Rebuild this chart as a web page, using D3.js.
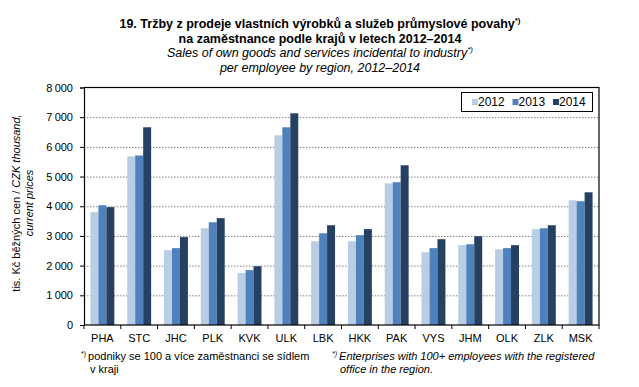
<!DOCTYPE html>
<html><head><meta charset="utf-8">
<script src="https://cdnjs.cloudflare.com/ajax/libs/d3/7.8.5/d3.min.js"></script>
<style>
body{margin:0;background:#fff;}
svg{display:block;font-family:"Liberation Sans",Arial,sans-serif;}
</style></head>
<body><svg id="c" width="639" height="387"></svg>
<script>
const regions = ["PHA","STC","JHC","PLK","KVK","ULK","LBK","HKK","PAK","VYS","JHM","OLK","ZLK","MSK"];
const years = ["2012","2013","2014"];
const v2012 = [3800,5680,2520,3260,1750,6390,2820,2820,4770,2450,2690,2550,3230,4200];
const v2013 = [4035,5710,2590,3460,1850,6660,3090,3025,4810,2590,2720,2590,3260,4170];
const v2014 = [3970,6660,2960,3600,1980,7130,3360,3230,5380,2890,2990,2690,3360,4470];
const yTicks = [0,1000,2000,3000,4000,5000,6000,7000,8000];
const colors = ["#b9cde5","#4f81bd","#254061"];

const svg = d3.select("#c");
const L=84, R=599, T=87.5, B=325;
const series=[v2012,v2013,v2014];

const x0 = d3.scaleBand().domain(regions).range([L,R]).paddingInner(0.35).paddingOuter(0.175);
const x1 = d3.scaleBand().domain(years).range([0,x0.bandwidth()]);
const y = d3.scaleLinear().domain([0,8000]).range([B,T]);

// gridlines
svg.append("g").selectAll("line").data(yTicks.filter(d=>d>0&&d<8000)).join("line")
  .attr("x1",L).attr("x2",R).attr("y1",d=>y(d)+0.5).attr("y2",d=>y(d)+0.5)
  .attr("stroke","#808080").attr("stroke-dasharray","1.5,1.5");

// bars
const g = svg.append("g");
regions.forEach((r,i)=>{
  years.forEach((yr,j)=>{
    g.append("rect").attr("x",x0(r)+x1(yr)).attr("width",x1.bandwidth())
      .attr("y",y(series[j][i])).attr("height",B-y(series[j][i])).attr("fill",colors[j]);
  });
});

// frame
svg.append("rect").attr("x",L+0.5).attr("y",T).attr("width",R-L-0.5).attr("height",B-T)
  .attr("fill","none").attr("stroke","#000").attr("stroke-width",1.2);

// y axis
const ya = d3.axisLeft(y).tickValues(yTicks).tickSize(4).tickPadding(7)
  .tickFormat(d=>d3.format(",")(d).replace(/,/g,"\u2009"));
svg.append("g").attr("transform",`translate(${L},0)`).call(ya)
  .call(a=>a.select(".domain").attr("stroke","#000"))
  .call(a=>a.selectAll("text").attr("font-size",11).attr("fill","#000").attr("font-family","Liberation Sans, Arial"));

// x axis ticks at band boundaries
const bounds = regions.map(r=>x0(r)-x0.step()*0.175).concat([R]);
svg.append("g").selectAll("line").data(bounds).join("line")
  .attr("x1",d=>d).attr("x2",d=>d).attr("y1",B).attr("y2",B+4).attr("stroke","#000");
svg.append("g").selectAll("text").data(regions).join("text")
  .attr("x",r=>x0(r)+x0.bandwidth()/2).attr("y",342).attr("text-anchor","middle")
  .attr("font-size",11).text(r=>r);

// titles
const cx=320;
const t1 = svg.append("text").attr("x",cx).attr("y",28).attr("text-anchor","middle").attr("font-size",12.5).attr("font-weight","bold");
t1.append("tspan").text("19. Tržby z prodeje vlastních výrobků a služeb průmyslové povahy");
t1.append("tspan").attr("dy",-5).attr("font-size",8).text("*)");
svg.append("text").attr("x",cx).attr("y",42.5).attr("text-anchor","middle").attr("font-size",12.5).attr("font-weight","bold")
  .text("na zaměstnance podle krajů v letech 2012–2014");
const t3 = svg.append("text").attr("x",cx).attr("y",57).attr("text-anchor","middle").attr("font-size",12.5).attr("font-style","italic");
t3.append("tspan").text("Sales of own goods and services incidental to industry");
t3.append("tspan").attr("dy",-5).attr("font-size",8).text("*)");
svg.append("text").attr("x",cx).attr("y",72).attr("text-anchor","middle").attr("font-size",12.5).attr("font-style","italic")
  .text("per employee by region, 2012–2014");

// y axis title
const yt = svg.append("text").attr("transform","translate(20,203) rotate(-90)").attr("text-anchor","middle").attr("font-size",11);
yt.append("tspan").text("tis. Kč běžných cen / ");
yt.append("tspan").attr("font-style","italic").text("CZK thousand,");
svg.append("text").attr("transform","translate(33,203) rotate(-90)").attr("text-anchor","middle").attr("font-size",11)
  .attr("font-style","italic").text("current prices");

// legend
svg.append("rect").attr("x",461.5).attr("y",92.5).attr("width",131).attr("height",19).attr("fill","#fff").attr("stroke","#000");
const lx=[472,512.5,553];
years.forEach((yr,j)=>{
  svg.append("rect").attr("x",lx[j]).attr("y",99).attr("width",6).attr("height",6).attr("fill",colors[j]);
  svg.append("text").attr("x",lx[j]+6).attr("y",106).attr("font-size",12).text(yr);
});

// footnotes
const f1 = svg.append("text").attr("x",81).attr("y",360).attr("font-size",11);
f1.append("tspan").attr("font-size",7).attr("dy",-4).text("*)");
f1.append("tspan").attr("dy",4).attr("dx",2).text("podniky se 100 a více zaměstnanci se sídlem");
svg.append("text").attr("x",90).attr("y",373).attr("font-size",11).text("v kraji");
const f2 = svg.append("text").attr("x",332).attr("y",360).attr("font-size",11).attr("font-style","italic");
f2.append("tspan").attr("font-size",7).attr("dy",-4).text("*)");
f2.append("tspan").attr("dy",4).attr("dx",2).text("Enterprises with 100+ employees with the registered");
svg.append("text").attr("x",340).attr("y",373).attr("font-size",11).attr("font-style","italic").text("office in the region.");
</script></body></html>
